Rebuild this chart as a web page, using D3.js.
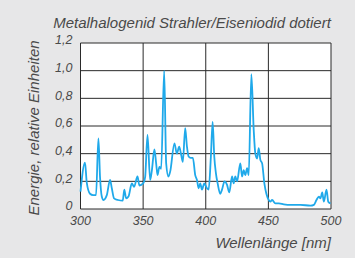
<!DOCTYPE html>
<html>
<head>
<meta charset="utf-8">
<script src="https://cdn.jsdelivr.net/npm/d3@7"></script>
<style>
  body { margin: 0; background: #e7e7e8; }
  svg text { font-family: "Liberation Sans", Arial, sans-serif; font-style: italic; fill: #4a4a4a; }
</style>
</head>
<body>
<div id="chart"></div>
<script>
var titleText = "Metalhalogenid Strahler/Eiseniodid dotiert";
var xLabel = "Wellenlänge [nm]";
var yLabel = "Energie, relative Einheiten";

var xTicks = [300, 350, 400, 450, 500];
var yTicks = [0, 0.2, 0.4, 0.6, 0.8, 1.0, 1.2];

// wavelength (nm) and relative energy
var wavelength = [300, 303.6, 305, 307.6, 310, 312.4, 314.3, 315.6, 317, 318.3, 321, 323.6, 325, 326.8,
  330, 333.7, 335, 336.4, 338.3, 341, 342.8, 345.5, 347, 350, 351.6, 353.5, 355.6, 357, 359, 360.4,
  361.5, 363, 364.4, 366.8, 368.4, 370.2, 371.6, 375, 376.9, 378.8, 380.4, 381.7, 383.6, 385, 386.3,
  388, 389.7, 391.6, 393, 394.3, 395.6, 397, 398.8, 401, 402.3, 404.1, 405.5, 406.8, 408.1, 409.5,
  411.6, 413, 415, 417, 418.8, 421, 422.3, 423.6, 425, 427.6, 429, 430.3, 431.6, 433, 434.3, 436.4,
  438.3, 439.6, 441, 442.3, 443.6, 445, 446.8, 448.4, 450.3, 451.6, 453, 455.6, 458.3, 462.3, 467.6,
  475.6, 483.6, 486.3, 488.4, 490.3, 491.6, 493, 494.3, 496.4, 497.8, 499.6];
var energy = [0.125, 0.335, 0.19, 0.11, 0.10, 0.10, 0.51, 0.23, 0.09, 0.065, 0.10, 0.21, 0.15, 0.077,
  0.065, 0.06, 0.14, 0.077, 0.09, 0.185, 0.16, 0.235, 0.17, 0.185, 0.23, 0.535, 0.21, 0.28, 0.43, 0.33,
  0.245, 0.305, 0.29, 1.0, 0.33, 0.235, 0.27, 0.475, 0.40, 0.45, 0.39, 0.34, 0.585, 0.45, 0.38,
  0.37, 0.37, 0.245, 0.21, 0.15, 0.185, 0.14, 0.185, 0.15, 0.14, 0.38, 0.63, 0.38, 0.26, 0.185,
  0.11, 0.14, 0.20, 0.175, 0.12, 0.235, 0.185, 0.235, 0.20, 0.33, 0.235, 0.28, 0.245, 0.295, 0.245, 0.975,
  0.57, 0.40, 0.365, 0.44, 0.355, 0.33, 0.185, 0.11, 0.065, 0.053, 0.065, 0.04, 0.04, 0.034, 0.03,
  0.03, 0.024, 0.03, 0.065, 0.09, 0.077, 0.12, 0.053, 0.14, 0.053, 0.04];

var width = 355, height = 258;
var margin = {top: 43, right: 24, bottom: 49, left: 80.5};
var w = width - margin.left - margin.right;
var h = height - margin.top - margin.bottom;

var svg = d3.select("#chart").append("svg")
  .attr("width", width).attr("height", height);

svg.append("rect").attr("width", width).attr("height", height).attr("fill", "#e7e7e8");

var g = svg.append("g")
  .attr("transform", "translate(" + margin.left + "," + margin.top + ")");

var x = d3.scaleLinear().domain([300, 500]).range([0, w]);
var y = d3.scaleLinear().domain([0, 1.2]).range([h, 0]);

g.append("rect").attr("width", w).attr("height", h).attr("fill", "#fff");

// grid
g.selectAll(".hgrid").data(yTicks).enter().append("line")
  .attr("x1", 0).attr("x2", w)
  .attr("y1", d => y(d)).attr("y2", d => y(d))
  .attr("stroke", "#2a2a2a").attr("stroke-width", 1);
g.selectAll(".vgrid").data(xTicks).enter().append("line")
  .attr("y1", 0).attr("y2", h)
  .attr("x1", d => x(d)).attr("x2", d => x(d))
  .attr("stroke", "#2a2a2a").attr("stroke-width", 1);

// spectrum
var pts = wavelength.map((d, i) => [d, energy[i]]);
g.append("path")
  .datum(pts)
  .attr("fill", "none")
  .attr("stroke", "#1fa9ea")
  .attr("stroke-width", 1.8)
  .attr("stroke-linejoin", "round")
  .attr("d", d3.line().x(d => x(d[0])).y(d => y(d[1])).curve(d3.curveMonotoneX));

// tick labels
var fmt = d => d === 0 ? "0" : d3.format(".1f")(d).replace(".", ",");
g.selectAll(".ylab").data(yTicks).enter().append("text")
  .attr("x", -8).attr("y", d => y(d)).attr("dy", "0.1em")
  .attr("text-anchor", "end").style("font-size", "12.5px")
  .text(fmt);
g.selectAll(".xlab").data(xTicks).enter().append("text")
  .attr("x", d => x(d)).attr("y", h + 16)
  .attr("text-anchor", "middle").style("font-size", "12.5px")
  .text(d => d);

// titles
svg.append("text")
  .attr("x", 192).attr("y", 28)
  .attr("text-anchor", "middle").style("font-size", "15px")
  .text(titleText);
svg.append("text")
  .attr("x", width - 24).attr("y", 248)
  .attr("text-anchor", "end").style("font-size", "15px")
  .text(xLabel);
svg.append("text")
  .attr("transform", "translate(38.5," + (margin.top + h / 2 + 2) + ") rotate(-90)")
  .attr("text-anchor", "middle").style("font-size", "15px")
  .text(yLabel);
</script>
</body>
</html>
